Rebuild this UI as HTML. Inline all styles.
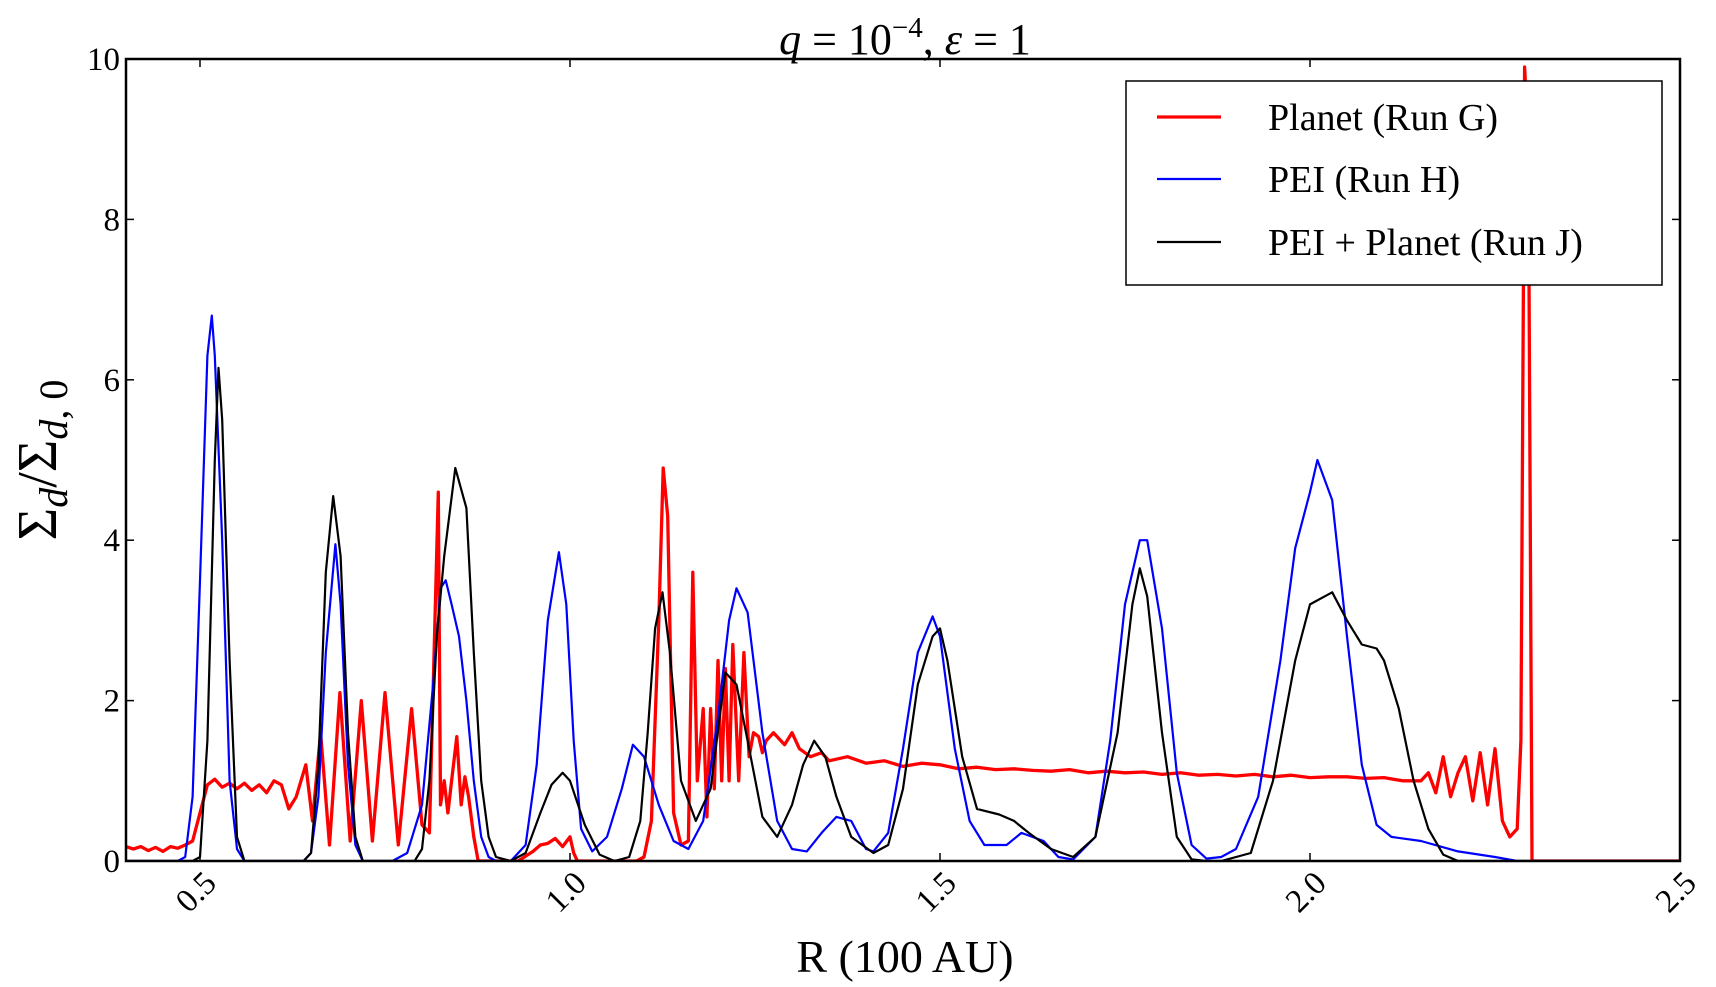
<!DOCTYPE html>
<html><head><meta charset="utf-8"><style>
body{margin:0;background:#fff;}
svg{display:block;font-family:"Liberation Serif",serif;}
</style></head><body>
<svg id="chart" width="1716" height="987" xmlns="http://www.w3.org/2000/svg"></svg>
<script>
const xTicks=[0.5,1.0,1.5,2.0,2.5];
const xTickLabels=["0.5","1.0","1.5","2.0","2.5"];
const yTicks=[0,2,4,6,8,10];
const yTickLabels=["0","2","4","6","8","10"];
const seriesNames=["Planet (Run G)","PEI (Run H)","PEI + Planet (Run J)"];
const redX=[0.4,0.41,0.42,0.43,0.44,0.45,0.46,0.47,0.48,0.49,0.5,0.51,0.52,0.53,0.54,0.55,0.56,0.57,0.58,0.59,0.6,
0.61,0.62,0.63,0.643,0.652,0.663,0.675,0.689,0.703,0.718,0.733,0.750,0.768,0.786,0.80,0.81,0.822,
0.825,0.83,0.835,0.84,0.847,0.853,0.858,0.863,0.87,0.876,
0.9,0.93,0.95,0.96,0.97,0.98,0.99,1.0,1.005,1.01,1.05,1.09,1.1,
1.11,1.12,1.126,1.132,1.14,1.15,1.16,1.166,1.172,1.18,1.185,1.19,1.195,1.2,1.205,1.21,1.215,1.22,1.228,1.235,1.242,1.248,1.255,1.26,1.265,
1.275,1.29,1.30,1.31,1.325,1.34,1.35,1.375,1.4,1.425,1.45,1.475,1.5,1.525,1.55,1.575,1.6,1.625,1.65,1.675,1.7,1.725,1.75,1.775,1.8,1.825,1.85,1.875,1.9,1.925,1.95,1.975,2.0,2.025,2.05,2.075,2.1,2.125,2.15,
2.16,2.17,2.18,2.19,2.2,2.21,2.22,2.23,2.24,2.25,2.26,2.27,2.28,2.285,2.29,2.295,2.3,2.5];
const redY=[0.18,0.15,0.18,0.13,0.17,0.12,0.18,0.16,0.2,0.25,0.6,0.95,1.02,0.92,0.97,0.9,0.97,0.88,0.95,0.85,1.0,
0.95,0.65,0.8,1.2,0.5,1.6,0.2,2.1,0.25,2.0,0.25,2.1,0.2,1.9,0.45,0.35,4.6,
0.7,1.0,0.6,1.0,1.55,0.7,1.05,0.8,0.3,0.0,
0,0,0.12,0.2,0.22,0.28,0.18,0.3,0.1,0,0,0,0.05,
0.5,3.0,4.9,4.3,0.6,0.2,0.25,3.6,1.0,1.9,0.55,1.9,0.9,2.5,1.0,2.4,1.0,2.7,1.0,2.6,1.3,1.6,1.55,1.35,1.5,
1.6,1.45,1.6,1.4,1.3,1.35,1.25,1.3,1.22,1.25,1.18,1.22,1.2,1.15,1.17,1.14,1.15,1.13,1.12,1.14,1.1,1.12,1.1,1.11,1.08,1.1,1.07,1.08,1.06,1.08,1.05,1.07,1.04,1.05,1.05,1.03,1.04,1.0,1.0,
1.1,0.85,1.3,0.8,1.1,1.3,0.75,1.35,0.7,1.4,0.5,0.3,0.4,1.5,9.9,9.0,0,0];
const blueX=[0.4,0.47,0.48,0.49,0.5,0.51,0.516,0.52,0.53,0.54,0.55,0.56,0.57,0.64,0.65,0.66,0.67,0.683,0.69,0.7,0.71,0.72,0.76,0.78,0.8,0.815,0.825,0.832,0.84,0.85,0.86,0.87,0.88,0.89,0.9,0.92,0.94,0.955,0.97,0.985,0.995,1.005,1.015,1.03,1.05,1.07,1.085,1.1,1.12,1.14,1.16,1.18,1.2,1.215,1.225,1.24,1.26,1.28,1.3,1.32,1.34,1.36,1.38,1.4,1.41,1.43,1.45,1.47,1.49,1.5,1.52,1.54,1.56,1.59,1.61,1.64,1.66,1.68,1.71,1.73,1.75,1.77,1.78,1.8,1.82,1.84,1.86,1.88,1.9,1.93,1.96,1.98,2.0,2.01,2.03,2.05,2.07,2.09,2.11,2.15,2.2,2.25,2.28,2.5];
const blueY=[0,0,0.05,0.8,3.5,6.3,6.8,6.3,4.0,1.0,0.15,0,0,0,0.1,0.8,2.6,3.95,3.2,1.2,0.2,0,0,0.1,0.7,2.2,3.4,3.5,3.2,2.8,2.0,1.0,0.3,0.05,0,0,0.2,1.2,3.0,3.85,3.2,1.5,0.4,0.12,0.3,0.9,1.45,1.3,0.7,0.25,0.15,0.5,1.8,3.0,3.4,3.1,1.6,0.5,0.15,0.12,0.35,0.55,0.5,0.15,0.12,0.35,1.4,2.6,3.05,2.8,1.4,0.5,0.2,0.2,0.35,0.25,0.05,0.02,0.3,1.5,3.2,4.0,4.0,2.9,1.1,0.2,0.03,0.05,0.15,0.8,2.5,3.9,4.6,5.0,4.5,2.8,1.2,0.45,0.3,0.25,0.12,0.05,0,0];
const blackX=[0.4,0.49,0.5,0.51,0.52,0.525,0.53,0.54,0.55,0.56,0.64,0.65,0.66,0.67,0.68,0.69,0.7,0.71,0.72,0.79,0.8,0.81,0.82,0.83,0.845,0.86,0.87,0.88,0.89,0.9,0.92,0.94,0.96,0.975,0.99,1.0,1.02,1.04,1.06,1.08,1.095,1.105,1.115,1.125,1.135,1.15,1.17,1.19,1.21,1.225,1.24,1.26,1.28,1.3,1.315,1.33,1.345,1.36,1.38,1.41,1.43,1.45,1.47,1.49,1.5,1.51,1.53,1.55,1.58,1.6,1.62,1.65,1.68,1.71,1.74,1.76,1.77,1.78,1.8,1.82,1.84,1.86,1.88,1.92,1.95,1.98,2.0,2.02,2.03,2.05,2.07,2.09,2.1,2.12,2.14,2.16,2.18,2.2,2.5];
const blackY=[0,0,0.05,1.5,5.0,6.15,5.5,2.5,0.3,0,0,0.1,1.2,3.6,4.55,3.8,1.6,0.3,0,0,0.15,1.0,2.8,3.8,4.9,4.4,2.6,1.0,0.3,0.05,0,0.1,0.6,0.95,1.1,1.0,0.45,0.08,0,0.05,0.5,1.6,2.9,3.35,2.6,1.0,0.5,0.9,2.35,2.2,1.5,0.55,0.3,0.7,1.2,1.5,1.3,0.8,0.3,0.1,0.2,0.9,2.2,2.8,2.9,2.5,1.3,0.65,0.58,0.5,0.35,0.15,0.05,0.3,1.6,3.2,3.65,3.3,1.6,0.3,0.02,0,0,0.1,1.0,2.5,3.2,3.3,3.35,3.0,2.7,2.65,2.5,1.9,1.0,0.4,0.08,0,0];

const NS="http://www.w3.org/2000/svg";
const svg=document.getElementById('chart');
const L=126,R=1680,T=59,B=861,X0=0.4,X1=2.5,Y0=0,Y1=10;
function sx(v){return L+(v-X0)/(X1-X0)*(R-L);}
function sy(v){return B-(v-Y0)/(Y1-Y0)*(B-T);}
function mk(tag,attrs,parent){const e=document.createElementNS(NS,tag);for(const k in attrs)e.setAttribute(k,attrs[k]);(parent||svg).appendChild(e);return e;}

const clip=mk('clipPath',{id:'pc'});mk('rect',{x:L,y:T,width:R-L,height:B-T},clip);
const plot=mk('g',{'clip-path':'url(#pc)'});


function line(xs,ys,color,w,name){
  const d=xs.map((x,i)=>(i?'L':'M')+sx(x).toFixed(1)+','+sy(ys[i]).toFixed(1)).join('');
  const p=mk('path',{d:d,fill:'none',stroke:color,'stroke-width':w,'stroke-linejoin':'round'},plot);
  
  
}
line(redX,redY,'#ff0000',3.3,'planet-run-g-line');
line(blueX,blueY,'#0000ff',2.2,'pei-run-h-line');
line(blackX,blackY,'#000000',2.2,'pei-planet-run-j-line');

const frame=mk('rect',{x:L,y:T,width:R-L,height:B-T,fill:'none',stroke:'#000','stroke-width':2.5});



xTicks.forEach((v,i)=>{
  const x=sx(v);
  mk('line',{x1:x,y1:B,x2:x,y2:B-8,stroke:'#000','stroke-width':1.5});
  mk('line',{x1:x,y1:T,x2:x,y2:T+8,stroke:'#000','stroke-width':1.5});
  const t=mk('text',{x:x+18,y:B+24,'font-size':33,'text-anchor':'end',transform:`rotate(-45 ${x+18} ${B+24})`});
  t.textContent=xTickLabels[i];
  
  
});
yTicks.forEach((v,i)=>{
  const y=sy(v);
  mk('line',{x1:L,y1:y,x2:L+8,y2:y,stroke:'#000','stroke-width':1.5});
  mk('line',{x1:R,y1:y,x2:R-8,y2:y,stroke:'#000','stroke-width':1.5});
  const t=mk('text',{x:L-6,y:y+11,'font-size':33,'text-anchor':'end'});
  t.textContent=yTickLabels[i];
  
  
});
</script>
<svg style="position:absolute;left:0;top:0" width="1716" height="987" xmlns="http://www.w3.org/2000/svg" font-family="Liberation Serif, serif">
<text x="905" y="54" font-size="44" text-anchor="middle"><tspan font-style="italic">q</tspan> = 10<tspan dy="-17" font-size="29">−4</tspan><tspan dy="17">, </tspan><tspan font-style="italic">ε</tspan> = 1</text>
<text x="905" y="972" font-size="46" text-anchor="middle">R (100 AU)</text>
<text transform="translate(56 460) rotate(-90)" font-size="56" text-anchor="middle">Σ<tspan font-style="italic" font-size="40" dy="11">d</tspan><tspan dy="-11">/Σ</tspan><tspan font-style="italic" font-size="40" dy="11">d</tspan><tspan font-size="40">, 0</tspan></text>
<g>
<rect x="1126" y="81" width="536" height="204" fill="#fff" stroke="#000" stroke-width="1.5"/>
<g><line x1="1157" y1="117" x2="1221" y2="117" stroke="#f00" stroke-width="3.3"/><text x="1268" y="130" font-size="38">Planet (Run G)</text></g>
<g><line x1="1157" y1="179" x2="1221" y2="179" stroke="#00f" stroke-width="2.2"/><text x="1268" y="192" font-size="38">PEI (Run H)</text></g>
<g><line x1="1157" y1="242" x2="1221" y2="242" stroke="#000" stroke-width="2.2"/><text x="1268" y="255" font-size="38">PEI + Planet (Run J)</text></g>
</g>
</svg>
</body></html>
